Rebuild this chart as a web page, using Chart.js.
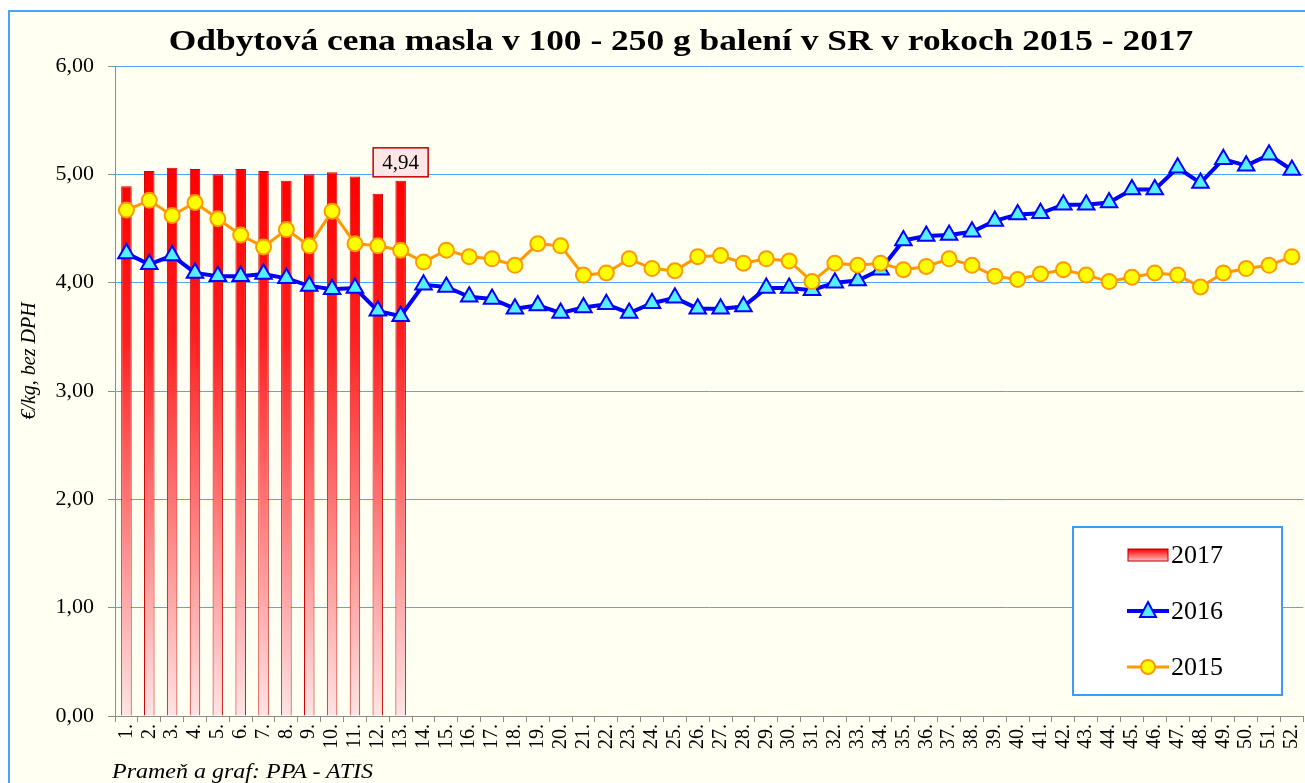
<!DOCTYPE html>
<html>
<head>
<meta charset="utf-8">
<script src="https://cdn.jsdelivr.net/npm/chart.js@4"></script>
<style>
  html, body { margin: 0; padding: 0; background: #fff; width: 1305px; height: 783px; overflow: hidden; }
  #frame { position: absolute; left: 8px; top: 10px; width: 1320px; height: 800px; border: 2px solid #4da3f7; background: #fffff2; }
  #chart { position: absolute; left: 0; top: 0; }
  #title { position: absolute; left: 0; width: 1362px; top: 24px; text-align: center; font: bold 29px "Liberation Serif", serif; color: #000;
    transform: scaleX(1.22); transform-origin: 681px 0; }
  #note { position: absolute; left: 112px; top: 760px; font: italic 20px "Liberation Serif", serif; color: #000;
    transform: scaleX(1.2); transform-origin: 0 0; white-space: nowrap; }
</style>
</head>
<body>
<div id="frame"></div>
<canvas id="chart" width="1318" height="783"></canvas>
<div id="title">Odbytová cena masla v 100 - 250 g balení v SR v rokoch 2015 - 2017</div>
<div id="note">Prameň a graf: PPA - ATIS</div>
<script>
const weeks = ['1.','2.','3.','4.','5.','6.','7.','8.','9.','10.','11.','12.','13.','14.','15.','16.','17.','18.','19.','20.',
  '21.','22.','23.','24.','25.','26.','27.','28.','29.','30.','31.','32.','33.','34.','35.','36.','37.','38.','39.','40.',
  '41.','42.','43.','44.','45.','46.','47.','48.','49.','50.','51.','52.'];

const price2017 = [4.89, 5.03, 5.06, 5.05, 5.00, 5.05, 5.03, 4.94, 5.00, 5.02, 4.98, 4.82, 4.94];

const price2016 = [4.27, 4.17, 4.25, 4.09, 4.06, 4.06, 4.08, 4.04, 3.97, 3.94, 3.95, 3.74, 3.69,
  3.98, 3.96, 3.87, 3.85, 3.76, 3.79, 3.72, 3.77, 3.80, 3.72, 3.81, 3.86, 3.76, 3.76, 3.78, 3.95, 3.95, 3.93,
  4.00, 4.02, 4.12, 4.39, 4.43, 4.44, 4.47, 4.57, 4.63, 4.64, 4.72, 4.72, 4.74, 4.86, 4.86, 5.06, 4.92, 5.14, 5.08, 5.18, 5.04];

const price2015 = [4.67, 4.76, 4.62, 4.74, 4.59, 4.44, 4.33, 4.49, 4.34, 4.66, 4.36, 4.34, 4.30,
  4.19, 4.30, 4.24, 4.22, 4.16, 4.36, 4.34, 4.07, 4.09, 4.22, 4.13, 4.11, 4.24, 4.25, 4.18, 4.22, 4.20, 4.01,
  4.18, 4.16, 4.18, 4.12, 4.15, 4.22, 4.16, 4.06, 4.03, 4.08, 4.12, 4.07, 4.01, 4.05, 4.09, 4.07, 3.96, 4.09, 4.13, 4.16, 4.24];

const yMin = 0, yMax = 6, yStep = 1;
const serif = '"Liberation Serif", "Times New Roman", serif';
const comma = v => v.toFixed(2).replace('.', ',');

function barFill(ctx) {
  const chart = ctx.chart, a = chart.chartArea;
  if (!a) return '#ff0000';
  const g = chart.ctx.createLinearGradient(0, a.top + 110, 0, a.bottom);
  g.addColorStop(0, '#ff0000');
  g.addColorStop(0.3, '#ff2020');
  g.addColorStop(1, '#ffe4e4');
  return g;
}

// label above the last 2017 bar
const lastLabel = {
  id: 'lastLabel',
  afterDatasetsDraw(chart) {
    const meta = chart.getDatasetMeta(0);
    const i = price2017.length - 1;
    const el = meta.data[i];
    if (!el) return;
    const c = chart.ctx, txt = comma(price2017[i]);
    c.save();
    c.font = '21px ' + serif;
    const w = 55, h = 29;
    const x = el.x - w / 2, y = el.y - 4 - h;
    c.fillStyle = '#ffe6e6';
    c.strokeStyle = '#c00000';
    c.lineWidth = 1.5;
    c.fillRect(x, y, w, h);
    c.strokeRect(x, y, w, h);
    c.fillStyle = '#000';
    c.textAlign = 'center';
    c.textBaseline = 'middle';
    c.fillText(txt, el.x, y + h / 2 + 1);
    c.restore();
  }
};

// legend box and y axis title
const extras = {
  id: 'extras',
  afterDraw(chart) {
    const c = chart.ctx;
    c.save();
    c.translate(30, 361);
    c.rotate(-Math.PI / 2);
    c.font = 'italic 20px ' + serif;
    c.fillStyle = '#000';
    c.textAlign = 'center';
    c.textBaseline = 'middle';
    c.fillText('€/kg, bez DPH', 0, 0);
    c.restore();

    c.save();
    c.fillStyle = '#ffffff';
    c.strokeStyle = '#3d9bf5';
    c.lineWidth = 2;
    c.fillRect(1073, 527, 209, 168);
    c.strokeRect(1073, 527, 209, 168);

    // 2017
    const g = c.createLinearGradient(0, 549, 0, 562);
    g.addColorStop(0, '#ff0000');
    g.addColorStop(1, '#ffd0d0');
    c.fillStyle = g;
    c.fillRect(1128, 549, 40, 12);
    c.strokeStyle = '#b00000';
    c.lineWidth = 1;
    c.strokeRect(1128, 549, 40, 12);

    // 2016
    c.strokeStyle = '#0000ff';
    c.lineWidth = 4;
    c.beginPath(); c.moveTo(1127, 611); c.lineTo(1169, 611); c.stroke();
    c.beginPath();
    c.moveTo(1148, 602); c.lineTo(1156, 617); c.lineTo(1140, 617); c.closePath();
    c.fillStyle = '#55f0ff';
    c.fill();
    c.lineWidth = 2;
    c.stroke();

    // 2015
    c.strokeStyle = '#ff9900';
    c.lineWidth = 3;
    c.beginPath(); c.moveTo(1127, 667); c.lineTo(1169, 667); c.stroke();
    c.beginPath(); c.arc(1148, 667, 7, 0, Math.PI * 2);
    c.fillStyle = '#ffff00';
    c.fill();
    c.lineWidth = 2;
    c.stroke();

    c.fillStyle = '#000';
    c.font = '26px ' + serif;
    c.textAlign = 'left';
    c.textBaseline = 'middle';
    c.fillText('2017', 1171, 556);
    c.fillText('2016', 1171, 612);
    c.fillText('2015', 1171, 668);
    c.restore();
  }
};

new Chart(document.getElementById('chart'), {
  type: 'bar',
  data: {
    labels: weeks,
    datasets: [
      { type: 'bar', label: '2017', data: price2017, order: 3,
        backgroundColor: barFill, borderColor: '#cc0000', borderWidth: 1,
        barPercentage: 0.46, categoryPercentage: 1 },
      { type: 'line', label: '2016', data: price2016, order: 2,
        borderColor: '#0000ff', borderWidth: 4, tension: 0,
        pointStyle: 'triangle', pointRadius: 9.5, pointBackgroundColor: '#55f0ff',
        pointBorderColor: '#0000ff', pointBorderWidth: 2 },
      { type: 'line', label: '2015', data: price2015, order: 1,
        borderColor: '#ff9900', borderWidth: 3, tension: 0,
        pointStyle: 'circle', pointRadius: 7.5, pointBackgroundColor: '#ffff00',
        pointBorderColor: '#ff9900', pointBorderWidth: 2 }
    ]
  },
  options: {
    responsive: false,
    animation: false,
    layout: { padding: { top: 66, left: 0, right: 0, bottom: 0 } },
    plugins: { legend: { display: false }, title: { display: false }, tooltip: { enabled: false } },
    scales: {
      x: {
        offset: true,
        grid: { offset: true, drawOnChartArea: false, drawTicks: true, tickLength: 6, color: '#8c8c8c' },
        border: { color: '#8c8c8c' },
        ticks: { autoSkip: false, maxRotation: 90, minRotation: 90, padding: 2, color: '#000',
          font: { family: serif, size: 20 } },
        afterFit: s => { s.height = 67; }
      },
      y: {
        min: yMin, max: yMax,
        ticks: { stepSize: yStep, padding: 14, color: '#000', callback: v => comma(v),
          font: { family: serif, size: 22 } },
        grid: { color: c => c.tick && c.tick.value === 0 ? '#8c8c8c' : '#4da6ff', tickColor: '#8c8c8c', tickLength: 7 },
        border: { color: '#8c8c8c' },
        afterFit: s => { s.width = 115; }
      }
    }
  },
  plugins: [lastLabel, extras]
});
</script>
</body>
</html>
